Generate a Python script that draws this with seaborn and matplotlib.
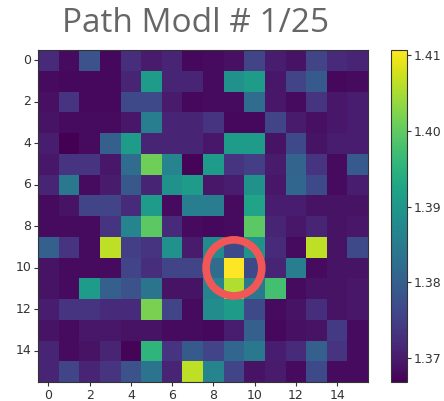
import numpy as np
import pandas as pd
import matplotlib
matplotlib.use("Agg")
import matplotlib.pyplot as plt
import seaborn as sns
from matplotlib.patches import Circle

# Valores del mapa (16 x 16)
valores = [
    [1.3721, 1.3681, 1.3778, 1.3677, 1.3725, 1.3699, 1.3712, 1.3677, 1.3681, 1.3686, 1.3756, 1.3703, 1.3690, 1.3756, 1.3721, 1.3712],
    [1.3681, 1.3677, 1.3677, 1.3677, 1.3712, 1.3909, 1.3712, 1.3712, 1.3681, 1.3888, 1.3909, 1.3694, 1.3756, 1.3791, 1.3677, 1.3681],
    [1.3686, 1.3734, 1.3677, 1.3677, 1.3765, 1.3765, 1.3699, 1.3677, 1.3681, 1.3681, 1.3822, 1.3694, 1.3681, 1.3734, 1.3694, 1.3703],
    [1.3690, 1.3681, 1.3681, 1.3681, 1.3694, 1.3852, 1.3712, 1.3712, 1.3734, 1.3677, 1.3677, 1.3756, 1.3699, 1.3686, 1.3694, 1.3703],
    [1.3703, 1.3668, 1.3681, 1.3800, 1.3909, 1.3712, 1.3712, 1.3712, 1.3694, 1.3909, 1.3909, 1.3690, 1.3765, 1.3690, 1.3703, 1.3703],
    [1.3694, 1.3734, 1.3734, 1.3694, 1.3822, 1.4010, 1.3866, 1.3672, 1.3909, 1.3734, 1.3747, 1.3699, 1.3808, 1.3734, 1.3681, 1.3791],
    [1.3712, 1.3844, 1.3681, 1.3699, 1.3787, 1.3712, 1.3888, 1.3909, 1.3694, 1.3703, 1.3888, 1.3694, 1.3813, 1.3765, 1.3681, 1.3703],
    [1.3681, 1.3690, 1.3756, 1.3756, 1.3721, 1.3909, 1.3681, 1.3852, 1.3852, 1.3681, 1.3923, 1.3703, 1.3703, 1.3690, 1.3690, 1.3690],
    [1.3681, 1.3681, 1.3681, 1.3734, 1.3866, 1.3997, 1.3721, 1.3681, 1.3677, 1.3681, 1.3997, 1.3712, 1.3694, 1.3712, 1.3690, 1.3694],
    [1.3800, 1.3734, 1.3681, 1.4063, 1.3747, 1.3734, 1.3888, 1.3699, 1.3879, 1.3765, 1.3888, 1.3721, 1.3681, 1.4063, 1.3690, 1.3765],
    [1.3690, 1.3681, 1.3681, 1.3681, 1.3756, 1.3725, 1.3756, 1.3756, 1.3822, 1.4107, 1.3765, 1.3712, 1.3852, 1.3681, 1.3690, 1.3690],
    [1.3690, 1.3681, 1.3909, 1.3800, 1.3778, 1.3835, 1.3690, 1.3690, 1.3866, 1.4054, 1.3844, 1.3975, 1.3681, 1.3690, 1.3690, 1.3694],
    [1.3703, 1.3734, 1.3734, 1.3721, 1.3721, 1.4019, 1.3756, 1.3681, 1.3879, 1.3909, 1.3765, 1.3681, 1.3690, 1.3725, 1.3690, 1.3694],
    [1.3690, 1.3681, 1.3694, 1.3694, 1.3690, 1.3690, 1.3681, 1.3681, 1.3677, 1.3703, 1.3800, 1.3677, 1.3686, 1.3690, 1.3743, 1.3681],
    [1.3712, 1.3681, 1.3690, 1.3712, 1.3672, 1.3953, 1.3734, 1.3791, 1.3756, 1.3813, 1.3844, 1.3703, 1.3721, 1.3800, 1.3734, 1.3681],
    [1.3712, 1.3756, 1.3712, 1.3734, 1.3778, 1.3835, 1.3712, 1.4063, 1.3866, 1.3756, 1.3690, 1.3699, 1.3681, 1.3765, 1.3681, 1.3681],
]
ticks = [0, 2, 4, 6, 8, 10, 12, 14]
cbar_ticks = [1.37, 1.38, 1.39, 1.40, 1.41]
celda_marcada = (9, 10)  # columna, fila
titulo = "Path Modl # 1/25"

df = pd.DataFrame(valores)

fig = plt.figure(figsize=(4.44, 4.01), dpi=100)
ax = fig.add_axes([38 / 444, 1 - 382 / 401, 330 / 444, 332 / 401])
cax = fig.add_axes([391 / 444, 1 - 382 / 401, 16 / 444, 332 / 401])

sns.heatmap(df, cmap="viridis", ax=ax, cbar_ax=cax,
            cbar_kws={"ticks": cbar_ticks, "format": "%.2f"})

# Ejes
ax.set_xticks([t + 0.5 for t in ticks])
ax.set_xticklabels(ticks, rotation=0)
ax.set_yticks([t + 0.5 for t in ticks])
ax.set_yticklabels(ticks, rotation=0)
ax.tick_params(labelsize=9, colors="#333333", length=3, pad=2)
for s in ax.spines.values():
    s.set_visible(True)
    s.set_color("#333333")
    s.set_linewidth(0.8)

cbar = ax.collections[0].colorbar
cax.tick_params(labelsize=9, colors="#333333", length=3, pad=2)
cbar.outline.set_visible(True)
cbar.outline.set_edgecolor("#333333")
cbar.outline.set_linewidth(0.8)

# Circulo rojo sobre la celda maxima
ax.add_patch(Circle((celda_marcada[0] + 0.5, celda_marcada[1] + 0.5), 1.35,
                    fill=False, edgecolor="#f25757", linewidth=5.5, clip_on=False))

fig.text(196 / 444, 1 - 24 / 401, titulo, ha="center", va="center",
         fontsize=24, color="#666666", family="Open Sans")

plt.savefig("out.png", dpi=100)
plt.close()
